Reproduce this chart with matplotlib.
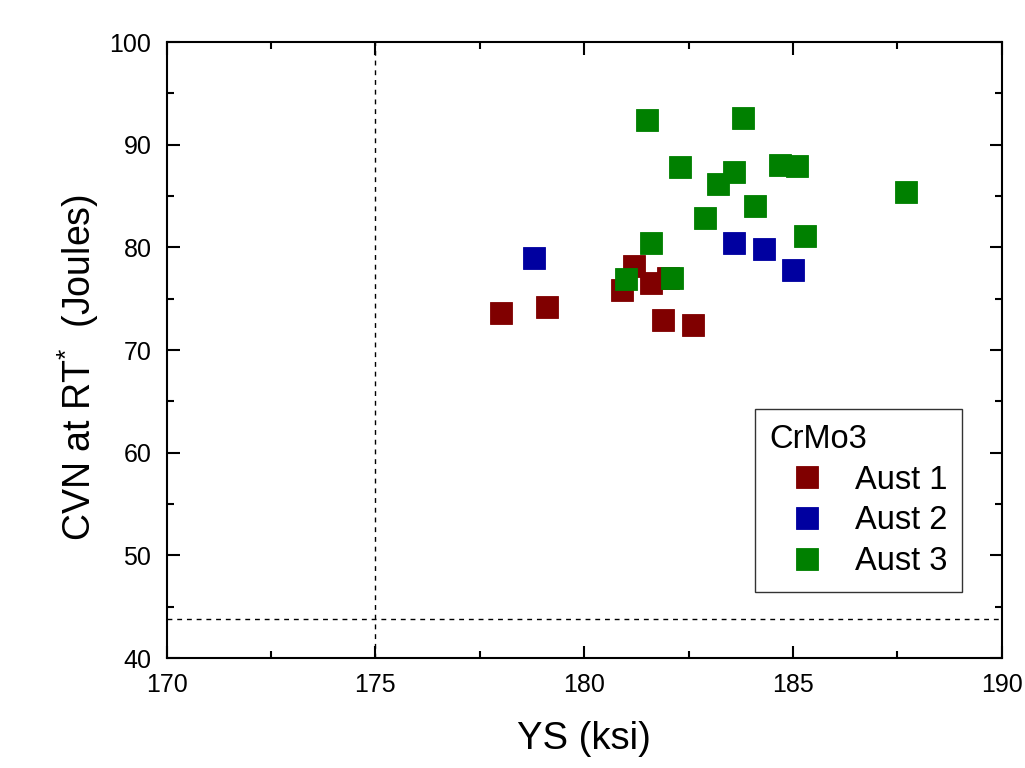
import matplotlib
matplotlib.use("Agg")
import matplotlib.pyplot as plt
from matplotlib.ticker import MultipleLocator

plt.rcParams["font.family"] = ["Liberation Sans", "DejaVu Sans"]
plt.rcParams["mathtext.fontset"] = "custom"
plt.rcParams["mathtext.rm"] = "Liberation Sans"
plt.rcParams["mathtext.it"] = "Liberation Sans"
plt.rcParams["mathtext.bf"] = "Liberation Sans"

# Yield strength (ksi) and room-temperature CVN energy (J) per austenitizing condition
aust1_ys = [178.0, 179.1, 180.9, 181.2, 181.6, 182.0, 181.9, 182.6]
aust1_cvn = [73.6, 74.2, 75.8, 78.2, 76.5, 77.0, 72.9, 72.4]

aust2_ys = [178.8, 183.6, 184.3, 185.0]
aust2_cvn = [79.0, 80.4, 79.8, 77.8]

aust3_ys = [181.5, 183.8, 182.3, 183.6, 183.2, 184.7, 185.1, 187.7,
            184.1, 182.9, 181.6, 185.3, 181.0, 182.1]
aust3_cvn = [92.4, 92.6, 87.8, 87.3, 86.2, 88.0, 87.9, 85.4,
             84.0, 82.9, 80.4, 81.1, 76.9, 77.0]

series_labels = ["Aust 1", "Aust 2", "Aust 3"]
series_colors = ["#800000", "#0000a0", "#008000"]
legend_title = "CrMo3"

ys_limit = 175.0
cvn_limit = 43.8

fig = plt.figure(figsize=(10.25, 7.68), dpi=100)
ax = fig.add_axes([0.1626, 0.1432, 0.8146, 0.8021])

groups = [(aust1_ys, aust1_cvn), (aust2_ys, aust2_cvn), (aust3_ys, aust3_cvn)]
for i, ((xs, ys), lab, col) in enumerate(zip(groups, series_labels, series_colors)):
    ax.plot(xs, ys, linestyle="none", marker="s", markersize=16.3,
            markerfacecolor=col, markeredgecolor=col, markeredgewidth=0.6,
            label=lab, zorder=3 + i)

ax.axvline(ys_limit, color="black", linestyle=(0, (3.5, 3.5)), linewidth=1.0, zorder=2)
ax.axhline(cvn_limit, color="black", linestyle=(0, (3.5, 3.5)), linewidth=1.0, zorder=2)

ax.set_xlim(170, 190)
ax.set_ylim(40, 100)
ax.xaxis.set_major_locator(MultipleLocator(5))
ax.xaxis.set_minor_locator(MultipleLocator(2.5))
ax.yaxis.set_major_locator(MultipleLocator(10))
ax.yaxis.set_minor_locator(MultipleLocator(5))

for s in ax.spines.values():
    s.set_linewidth(1.5)

ax.tick_params(which="both", direction="in", top=True, right=True, width=1.5)
ax.tick_params(which="major", length=9, labelsize=18)
ax.tick_params(axis="x", which="major", pad=11)
ax.tick_params(axis="y", which="major", pad=11)
ax.tick_params(which="minor", length=5)

ax.set_xlabel("YS (ksi)", fontsize=27.5, labelpad=17)
ax.set_ylabel("CVN at RT$^{*}$  (Joules)", fontsize=27, labelpad=6)
ax.yaxis.label.set_y(0.471)

leg = ax.legend(title=legend_title, loc="upper left", bbox_to_anchor=(0.7046, 0.404),
                borderaxespad=0, fontsize=23.5, title_fontsize=23.5,
                alignment="left", fancybox=False, framealpha=1,
                edgecolor="#333333", borderpad=0.45, labelspacing=0.3,
                handlelength=2.3, handletextpad=0.3, markerscale=1.0)
leg.get_frame().set_linewidth(1.0)

fig.savefig("out.png", dpi=100)
